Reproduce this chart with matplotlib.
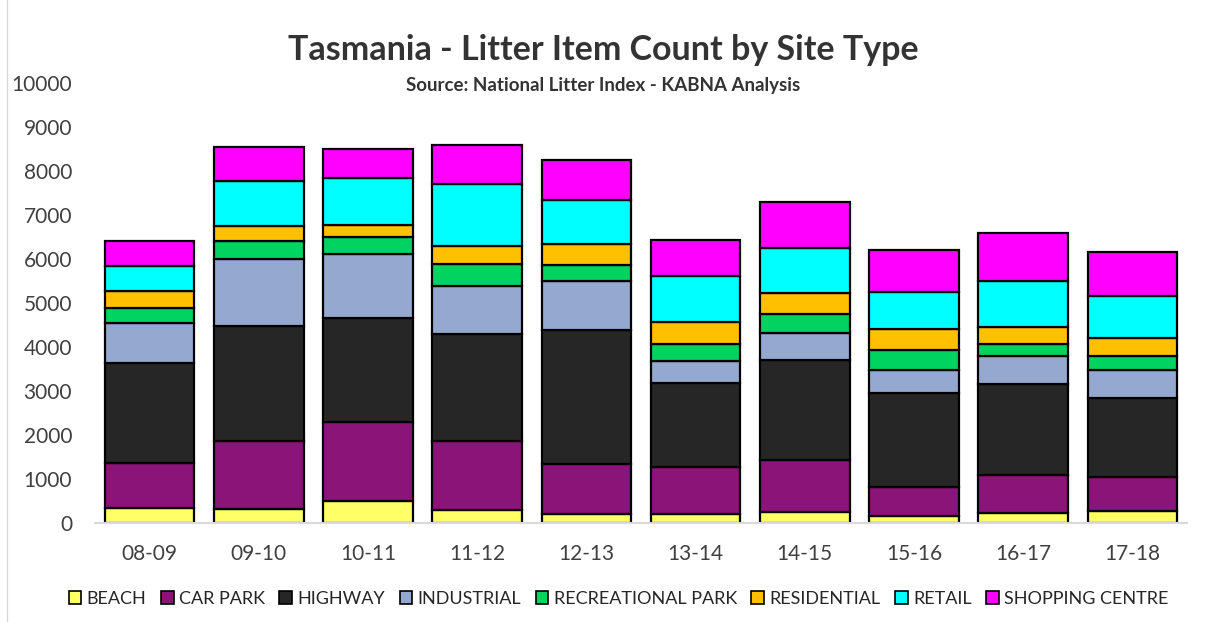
import matplotlib
matplotlib.use('Agg')
import matplotlib.pyplot as plt
import numpy as np
from matplotlib.patches import Patch
from matplotlib.lines import Line2D

plt.rcParams['font.family'] = ['Lato', 'DejaVu Sans']

# financial years
years = ['08-09', '09-10', '10-11', '11-12', '12-13', '13-14', '14-15', '15-16', '16-17', '17-18']

# litter item counts per site type
beach = [350, 320, 510, 295, 200, 200, 260, 160, 235, 275]
car_park = [1010, 1545, 1785, 1570, 1150, 1080, 1175, 665, 850, 780]
highway = [2270, 2620, 2360, 2425, 3030, 1895, 2275, 2135, 2070, 1780]
industrial = [910, 1505, 1455, 1105, 1130, 500, 605, 515, 650, 645]
recreational_park = [355, 425, 385, 485, 355, 400, 425, 455, 260, 305]
residential = [385, 340, 280, 410, 485, 500, 490, 470, 400, 425]
retail = [560, 1020, 1055, 1410, 980, 1030, 1010, 855, 1025, 945]
shopping_centre = [570, 760, 665, 895, 925, 825, 1055, 955, 1100, 1005]

site_types = ['BEACH', 'CAR PARK', 'HIGHWAY', 'INDUSTRIAL', 'RECREATIONAL PARK',
              'RESIDENTIAL', 'RETAIL', 'SHOPPING CENTRE']
series = [beach, car_park, highway, industrial, recreational_park,
          residential, retail, shopping_centre]
colours = ['#FFFF66', '#8B1479', '#262626', '#95A9D0', '#00D35F',
           '#FFC000', '#00FFFF', '#FF00FF']

text_col = '#404040'

fig = plt.figure(figsize=(12.06, 6.22), dpi=100)
ax = fig.add_axes([95 / 1206, 1 - 523 / 622, 1092 / 1206, 440 / 622])

x = np.arange(len(years))
bottom = np.zeros(len(years))
for name, vals, col in zip(site_types, series, colours):
    ax.bar(x, vals, 0.82, bottom=bottom, color=col, edgecolor='black',
           linewidth=1.6, label=name)
    bottom += np.array(vals)

ax.set_xlim(-0.5, len(years) - 0.5)
ax.set_ylim(0, 10000)
ax.set_yticks(np.arange(0, 10001, 1000))
ax.set_xticks(x)
ax.set_xticklabels(years)
ax.tick_params(axis='both', length=0, labelsize=15, colors=text_col)
ax.tick_params(axis='y', pad=16.5)
ax.tick_params(axis='x', pad=15)

for s in ['top', 'right', 'left']:
    ax.spines[s].set_visible(False)
ax.spines['bottom'].set_color('#d9d9d9')
ax.spines['bottom'].set_linewidth(1.5)

fig.text(0.5, 1 - 50 / 622, 'Tasmania - Litter Item Count by Site Type',
         ha='center', va='center', fontsize=24.5, fontweight='bold', color='#333333')
fig.text(0.5, 1 - 85 / 622, 'Source: National Litter Index - KABNA Analysis',
         ha='center', va='center', fontsize=13.5, fontweight='bold', color='#333333')

# legend along the bottom
handles = [Patch(facecolor=c, edgecolor='black', linewidth=1.2) for c in colours]
fig.legend(handles, site_types, loc='center', bbox_to_anchor=(0.513, 1 - 599 / 622),
           ncol=8, frameon=False, fontsize=13, handlelength=0.7, handleheight=0.7,
           handletextpad=0.3, columnspacing=0.8, labelcolor='#262626')

# chart frame edge on the left
fig.add_artist(Line2D([7 / 1206, 7 / 1206], [0, 1], color='#d9d9d9', linewidth=1))

fig.savefig('out.png', dpi=100)
